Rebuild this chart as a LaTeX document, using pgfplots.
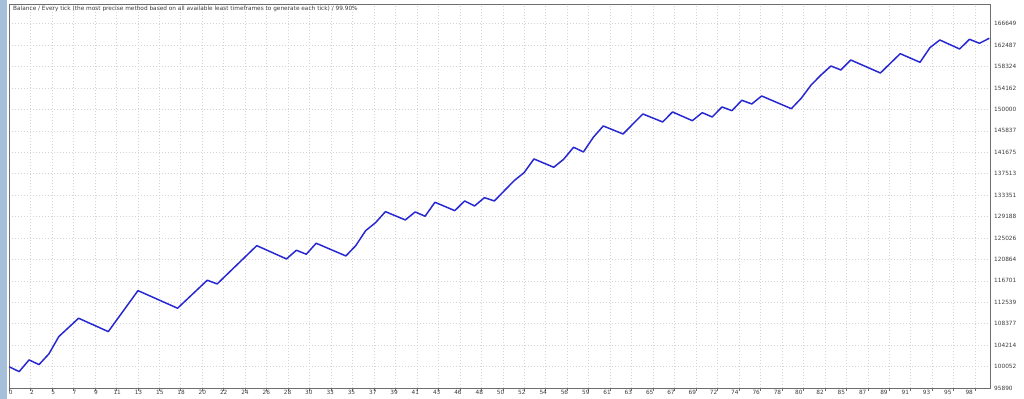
\documentclass[border=0pt]{standalone}
\usepackage{fontspec}
\setmainfont{DejaVu Sans}
\usepackage{pgfplots}
\pgfplotsset{compat=1.18}
\definecolor{lineblue}{RGB}{40,40,210}
\definecolor{gridgray}{RGB}{212,212,212}
\definecolor{framegray}{RGB}{110,110,110}
\definecolor{stripblue}{RGB}{165,190,218}
\definecolor{labelgray}{RGB}{60,60,60}
\begin{document}
\begin{tikzpicture}
\begin{axis}[
  at={(9bp,11bp)}, anchor=south west,
  scale only axis, width=981bp, height=384bp,
  xmin=-0.03, xmax=99.07, ymin=95890, ymax=170482,
  axis line style={framegray, line width=0.8bp},
  tick align=outside,
  xtick pos=bottom, ytick pos=right,
  major tick length=0bp, minor tick length=3bp,
  every minor tick/.style={framegray, line width=0.6bp},
  xtick={0.141,2.2927,...,97},
  xticklabels={0,2,5,7,9,11,13,15,18,20,22,24,26,28,30,33,35,37,39,41,43,46,48,50,52,54,56,59,61,63,65,67,69,72,74,76,78,80,82,85,87,89,91,93,95,98},
  minor xtick={-0.03,2.1389,...,97.7},
  xmajorgrids=false, xminorgrids=true, ymajorgrids=true,
  grid style={gridgray, line width=0.6bp, dash pattern=on 1.2bp off 1.8bp},
  minor grid style={gridgray, line width=0.6bp, dash pattern=on 1.2bp off 1.8bp},
  ytick={95890,100052,104214,108377,112539,116701,120864,125026,129188,133351,137513,141675,145837,150000,154162,158324,162487,166649},
  yticklabels={95890,100052,104214,108377,112539,116701,120864,125026,129188,133351,137513,141675,145837,150000,154162,158324,162487,166649},
  yticklabel pos=right,
  /pgf/number format/assume math mode=true,
  xticklabel style={font=\fontsize{5.8bp}{7bp}\selectfont, text=labelgray, anchor=north, inner sep=0pt, yshift=-2bp},
  yticklabel style={font=\fontsize{5.8bp}{7bp}\selectfont, text=labelgray, anchor=west, inner sep=0pt, xshift=4bp},
  clip=false,
]
\addplot[color=lineblue, line width=1.5bp, mark=none, line join=round] coordinates {
(0,100000) (1,99075) (2,101347) (3,100434) (4,102512) (5,105872) (7,109445)
(10,106843) (13,114805) (17,111387) (20,116825) (21,116106) (25,123544)
(28,120961) (29,122651) (30,121874) (31,124010) (34,121544) (35,123544)
(36,126457) (37,128011) (38,130147) (40,128535) (41,130089) (42,129254)
(43,131972) (45,130341) (46,132225) (47,131254) (48,132866) (49,132225)
(51,136167) (52,137721) (53,140381) (55,138769) (56,140323) (57,142653)
(58,141741) (59,144595) (60,146790) (62,145236) (64,149120) (66,147567)
(67,149509) (69,147819) (70,149373) (71,148538) (72,150480) (73,149761)
(74,151781) (75,151062) (76,152616) (79,150149) (80,152169) (81,154752)
(82,156694) (83,158442) (84,157665) (85,159607) (88,157082) (89,158966)
(90,160830) (92,159160) (93,161996) (94,163491) (96,161743) (97,163627)
(98,162850) (99,163821)
};
\node[anchor=west, inner sep=0pt, text=labelgray, font=\fontsize{5.8bp}{7bp}\selectfont]
  at ([xshift=4bp,yshift=-5bp]rel axis cs:0,1)
  {Balance / Every tick (the most precise method based on all available least timeframes to generate each tick) / 99.90\%};
\end{axis}
\fill[stripblue] (0,0) rectangle (7bp,399bp);
\pgfresetboundingbox
\useasboundingbox (0,0) rectangle (1024bp,399bp);
\end{tikzpicture}
\end{document}
